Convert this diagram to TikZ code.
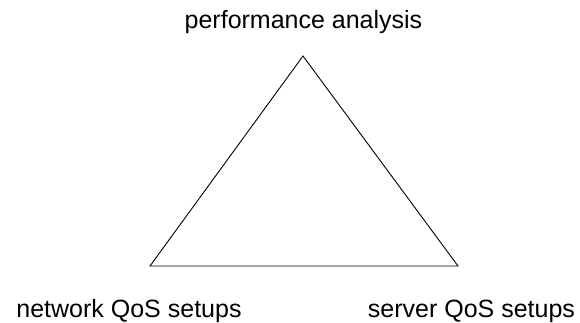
\documentclass[tikz,border=0pt]{standalone}
\usepackage{fontspec}
\setmainfont{Liberation Sans}
\begin{document}
\begin{tikzpicture}[x=1pt,y=-1pt,
  label text/.style={anchor=base,inner sep=0pt,font=\fontsize{25}{30}\selectfont},
  edge/.style={draw=black,line width=0.9pt,line join=miter}]
\useasboundingbox (0,0) rectangle (580,322);
\coordinate (apex) at (303,56);
\coordinate (left) at (150,266);
\coordinate (right) at (458,266);
\draw[edge] (apex) -- (left) -- (right) -- cycle;
\node[label text] (perf) at (303.5,28) {performance analysis};
\node[label text] (net) at (129,317) {network QoS setups};
\node[label text] (srv) at (471.5,317) {server QoS setups};
\end{tikzpicture}
\end{document}
